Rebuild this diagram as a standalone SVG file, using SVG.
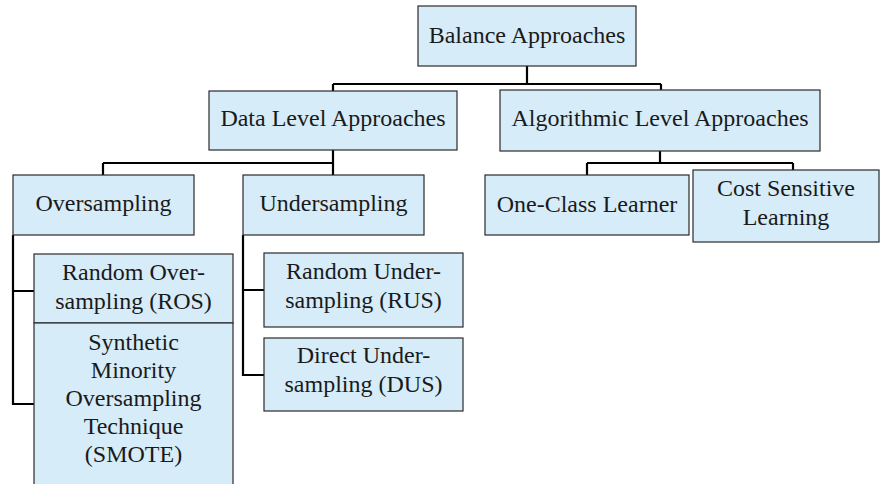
<svg xmlns="http://www.w3.org/2000/svg" width="880" height="484" viewBox="0 0 880 484">
<style>
.box{fill:#d6ecf9;stroke:#2b2b2b;stroke-width:1.2}
.t{font-family:"Liberation Serif","Times New Roman",serif;font-size:24px;fill:#1a1a1a;text-anchor:middle}
.c{fill:none;stroke:#000;stroke-width:2.2}
</style>
<rect width="880" height="484" fill="#fff"/>
<g id="connectors">
<path class="c" d="M527 66V84M333 84H661M333 84V91M661 84V90"/>
<path class="c" d="M333 150V163M103 163H333M103 163V175M333 163V175"/>
<path class="c" d="M660 151V163M587 163H793M587 163V175M793 163V170"/>
<path class="c" d="M13 235V404H34M13 291H34"/>
<path class="c" d="M243 235V375H264M243 290H264"/>
</g>
<g id="balance"><rect class="box" x="418" y="6" width="218" height="60"/><text class="t" x="527" y="43">Balance Approaches</text></g>
<g id="data"><rect class="box" x="209" y="91" width="248" height="59"/><text class="t" x="333" y="126">Data Level Approaches</text></g>
<g id="algo"><rect class="box" x="500" y="90" width="320" height="61"/><text class="t" x="660" y="126">Algorithmic Level Approaches</text></g>
<g id="over"><rect class="box" x="13" y="175" width="181" height="60"/><text class="t" x="103.5" y="211">Oversampling</text></g>
<g id="under"><rect class="box" x="243" y="175" width="181" height="60"/><text class="t" x="333.5" y="211">Undersampling</text></g>
<g id="ros"><rect class="box" x="34" y="254" width="199" height="69"/><text class="t" x="133.5" y="280">Random Over-</text><text class="t" x="133.5" y="309">sampling (ROS)</text></g>
<g id="smote"><rect class="box" x="34" y="323" width="199" height="170"/><text class="t" x="133.5" y="350">Synthetic</text><text class="t" x="133.5" y="378">Minority</text><text class="t" x="133.5" y="406">Oversampling</text><text class="t" x="133.5" y="434">Technique</text><text class="t" x="133.5" y="462">(SMOTE)</text></g>
<g id="rus"><rect class="box" x="264" y="253" width="199" height="74"/><text class="t" x="363.5" y="279">Random Under-</text><text class="t" x="363.5" y="308">sampling (RUS)</text></g>
<g id="dus"><rect class="box" x="264" y="338" width="199" height="73"/><text class="t" x="363.5" y="363">Direct Under-</text><text class="t" x="363.5" y="392">sampling (DUS)</text></g>
<g id="oneclass"><rect class="box" x="485" y="175" width="204" height="60"/><text class="t" x="587" y="212">One-Class Learner</text></g>
<g id="cost"><rect class="box" x="693" y="170" width="186" height="72"/><text class="t" x="786" y="196">Cost Sensitive</text><text class="t" x="786" y="225">Learning</text></g>
</svg>
